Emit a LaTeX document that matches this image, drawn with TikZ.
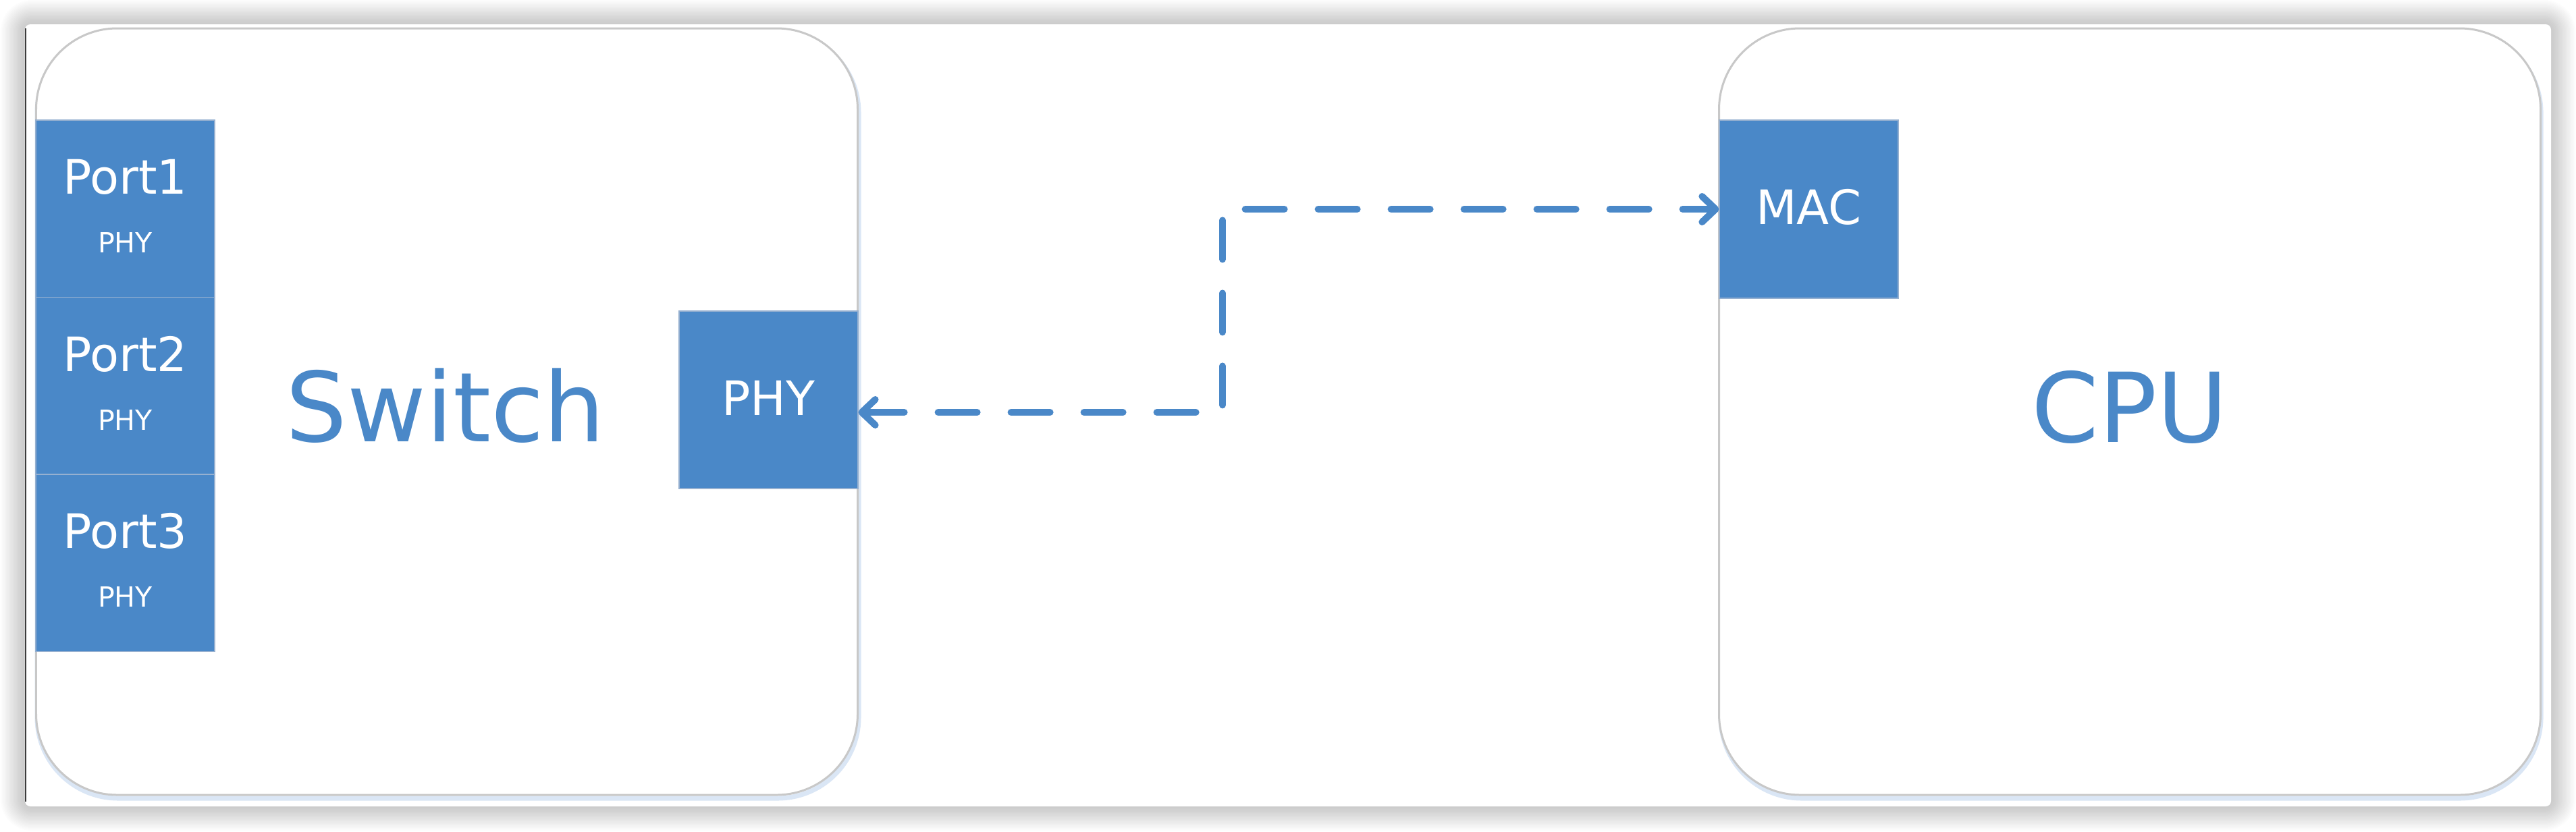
\documentclass[tikz,border=0pt]{standalone}
\usepackage{fontspec}
\setmainfont{DejaVu Sans}
\usetikzlibrary{arrows.meta}
\definecolor{blu}{RGB}{74,136,200}
\definecolor{edgegray}{RGB}{200,200,200}
\definecolor{glow}{RGB}{218,230,245}
\definecolor{boxedge}{RGB}{150,176,208}
\definecolor{leftline}{RGB}{60,60,60}
\begin{document}
\begin{tikzpicture}[
  bigbox/.style={draw=edgegray, line width=0.03cm, fill=white, rounded corners=1.2cm,
    minimum width=12.17cm, minimum height=11.36cm, inner sep=0pt},
  bluebox/.style={fill=blu, draw=boxedge, line width=0.012cm, minimum width=2.65cm,
    inner sep=0pt, text=white, font=\fontsize{20}{24}\selectfont},
  biglabel/.style={text=blu, font=\fontsize{40.7}{48}\selectfont, anchor=base, inner sep=0pt},
  portlbl/.style={text=white, font=\fontsize{20}{24}\selectfont, anchor=base, inner sep=0pt},
  phylbl/.style={text=white, font=\fontsize{11.7}{14}\selectfont, anchor=base, inner sep=0pt},
  conn/.style={draw=blu, line width=0.1cm, line cap=round, dash pattern=on 0.58cm off 0.5cm,
    {Straight Barb[length=0.2cm,width=0.38cm,round]}-{Straight Barb[length=0.2cm,width=0.38cm,round]}}
]
\useasboundingbox (0,0) rectangle (38.16,-12.32);
% drop shadow of the card
\foreach \i in {1,...,18}{
  \fill[black, fill opacity=0.012, rounded corners=0.1cm+\i*0.02cm]
    ({0.37-\i*0.02},{-0.36+\i*0.02}) rectangle ({37.79+\i*0.02},{-11.95-\i*0.02});
}
% card
\fill[white, rounded corners=0.08cm] (0.37,-0.36) rectangle (37.79,-11.95);
\draw[leftline, line width=0.025cm] (0.38,-0.42) -- (0.38,-11.88);

% faint blue glow under the big boxes
\draw[glow, line width=0.07cm, rounded corners=1.2cm] (0.55,-0.47) rectangle (12.72,-11.83);
\draw[glow, line width=0.07cm, rounded corners=1.2cm] (25.49,-0.47) rectangle (37.64,-11.83);

\node[bigbox] (switch) at (6.62,-6.10) {};
\node[bigbox] (cpu) at (31.55,-6.10) {};

\node[biglabel] (switchlbl) at (6.60,-6.54) {Switch};
\node[biglabel] (cpulbl) at (31.55,-6.55) {CPU};

% ports
\node[bluebox, minimum height=2.625cm] (port1) at (1.855,-3.0925) {};
\node[bluebox, minimum height=2.625cm] (port2) at (1.855,-5.7175) {};
\node[bluebox, minimum height=2.625cm] (port3) at (1.855,-8.3425) {};
\node[portlbl] (p1t) at ([yshift=0.215cm]port1.center) {Port1};
\node[phylbl]  (p1p) at ([yshift=-0.655cm]port1.center) {PHY};
\node[portlbl] (p2t) at ([yshift=0.215cm]port2.center) {Port2};
\node[phylbl]  (p2p) at ([yshift=-0.655cm]port2.center) {PHY};
\node[portlbl] (p3t) at ([yshift=0.215cm]port3.center) {Port3};
\node[phylbl]  (p3p) at ([yshift=-0.655cm]port3.center) {PHY};

% PHY and MAC
\node[bluebox, minimum height=2.63cm] (phy) at (11.385,-5.925) {};
\node[portlbl] (phylabel) at ([yshift=-0.225cm]phy.center) {PHY};
\node[bluebox, minimum height=2.64cm] (mac) at (26.795,-3.10) {};
\node[portlbl] (maclabel) at ([yshift=-0.22cm]mac.center) {MAC};

% connector
\coordinate (elbow) at (18.11,-6.11);
\draw[conn] (phy.east |- elbow) -- (elbow) |- (mac.west);
\end{tikzpicture}
\end{document}
